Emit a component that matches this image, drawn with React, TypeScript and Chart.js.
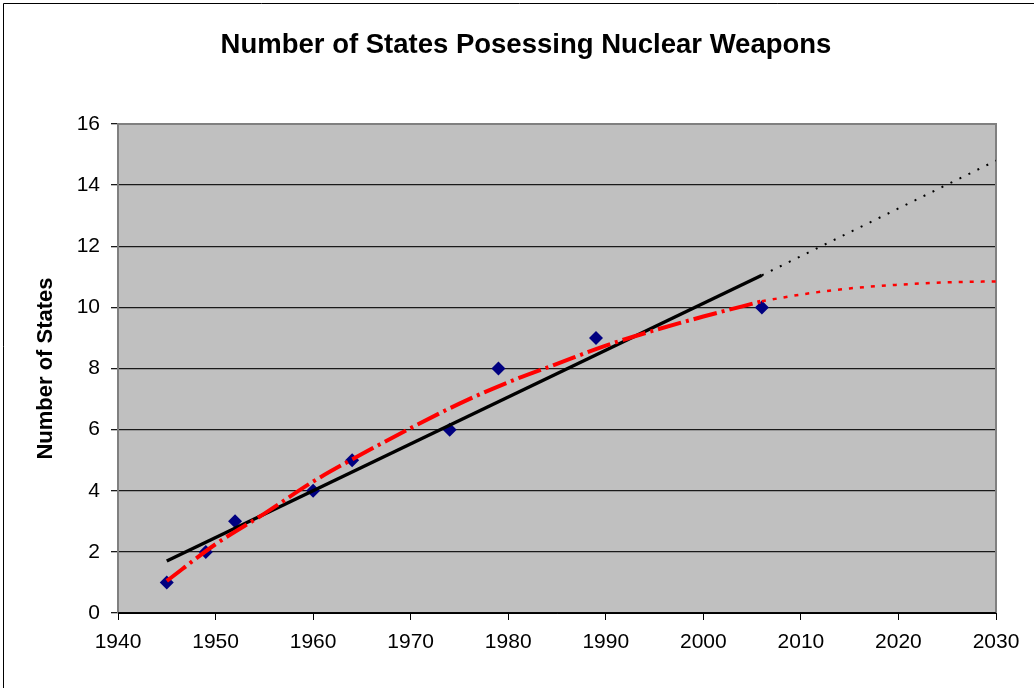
import React, { useEffect, useRef } from "react";
import { Chart, registerables } from "chart.js";

Chart.register(...registerables);

const titleText = "Number of States Posessing Nuclear Weapons";
const yAxisTitle = "Number of States";

const years = [1945, 1949, 1952, 1960, 1964, 1974, 1979, 1989, 2006];
const states = [1, 2, 3, 4, 5, 6, 8, 9, 10];

const linearYears = [1945, 2006];
const linearValues = [1.7, 11.05];
const linearForecastYears = [2006, 2030];
const linearForecastValues = [11.05, 14.8];

const polyYears = [1945, 1950, 1955, 1960, 1965, 1970, 1975, 1980, 1985, 1990, 1995, 2000, 2006];
const polyValues = [1.05, 2.25, 3.25, 4.3, 5.2, 6.05, 6.85, 7.55, 8.15, 8.75, 9.25, 9.7, 10.2];
const polyForecastYears = [2006, 2010, 2015, 2020, 2025, 2030];
const polyForecastValues = [10.2, 10.42, 10.62, 10.74, 10.82, 10.85];

const FONT = '"Liberation Sans", Arial, sans-serif';

const pts = (xs: number[], ys: number[]) => xs.map((x, i) => ({ x, y: ys[i] }));

const decorPlugin = {
  id: "decor",
  beforeDraw(chart: any) {
    const { ctx, chartArea: a } = chart;
    ctx.save();
    ctx.fillStyle = "#ffffff";
    ctx.fillRect(0, 0, chart.width, chart.height);
    ctx.fillStyle = "#C0C0C0";
    ctx.fillRect(a.left, a.top, a.right - a.left, a.bottom - a.top);
    ctx.strokeStyle = "#000000";
    ctx.lineWidth = 1;
    ctx.beginPath();
    ctx.moveTo(3.5, chart.height + 5);
    ctx.lineTo(3.5, 3.5);
    ctx.lineTo(chart.width + 5, 3.5);
    ctx.stroke();
    ctx.fillStyle = "#000000";
    ctx.font = `bold 27.5px ${FONT}`;
    ctx.textAlign = "center";
    ctx.textBaseline = "middle";
    ctx.fillText(titleText, 526, 45);
    ctx.restore();
  },
  beforeDatasetsDraw(chart: any) {
    const { ctx, chartArea: a } = chart;
    ctx.save();
    ctx.strokeStyle = "#808080";
    ctx.lineWidth = 2;
    ctx.beginPath();
    ctx.moveTo(a.left, a.bottom);
    ctx.lineTo(a.left, a.top);
    ctx.lineTo(a.right, a.top);
    ctx.lineTo(a.right, a.bottom);
    ctx.stroke();
    ctx.strokeStyle = "#000000";
    ctx.lineWidth = 1.5;
    ctx.beginPath();
    ctx.moveTo(a.left, a.bottom);
    ctx.lineTo(a.right, a.bottom);
    ctx.stroke();
    ctx.restore();
  },
};

export default function App() {
  const ref = useRef<HTMLCanvasElement>(null);

  useEffect(() => {
    if (!ref.current) return;
    const chart = new Chart(ref.current, {
      type: "line",
      data: {
        datasets: [
          {
            label: "Poly forecast",
            data: pts(polyForecastYears, polyForecastValues),
            borderColor: "#FF0000",
            borderWidth: 2.5,
            borderDash: [4, 7],
            pointRadius: 0,
            cubicInterpolationMode: "monotone",
            order: 1,
          },
          {
            label: "Poly trend",
            data: pts(polyYears, polyValues),
            borderColor: "#FF0000",
            borderWidth: 4,
            borderDash: [24, 5, 3, 5],
            pointRadius: 0,
            cubicInterpolationMode: "monotone",
            order: 2,
          },
          {
            label: "Linear forecast",
            data: pts(linearForecastYears, linearForecastValues),
            borderColor: "#000000",
            borderWidth: 2,
            borderDash: [2, 8],
            pointRadius: 0,
            order: 3,
          },
          {
            label: "Linear trend",
            data: pts(linearYears, linearValues),
            borderColor: "#000000",
            borderWidth: 3.5,
            pointRadius: 0,
            order: 4,
          },
          {
            label: "States",
            data: pts(years, states),
            showLine: false,
            pointStyle: "rectRot",
            pointRadius: 7,
            pointBackgroundColor: "#000080",
            pointBorderColor: "#000080",
            pointBorderWidth: 0,
            order: 5,
          },
        ],
      },
      options: {
        responsive: false,
        animation: false,
        layout: { padding: { top: 124, left: 10, right: 38, bottom: 0 } },
        plugins: {
          legend: { display: false },
          title: { display: false },
          tooltip: { enabled: false },
        },
        scales: {
          x: {
            type: "linear",
            min: 1940,
            max: 2030,
            afterFit: (s: any) => {
              s.height = 75;
            },
            ticks: {
              stepSize: 10,
              padding: 10,
              color: "#000",
              font: { family: FONT, size: 21 },
              maxRotation: 0,
              callback: (v: any) => String(v),
            },
            grid: {
              drawOnChartArea: false,
              tickLength: 7,
              color: "#000",
              lineWidth: 1,
            },
            border: { color: "#000", width: 1 },
          },
          y: {
            min: 0,
            max: 16,
            afterFit: (s: any) => {
              s.width = 108;
            },
            ticks: {
              stepSize: 2,
              padding: 11,
              color: "#000",
              font: { family: FONT, size: 21 },
            },
            grid: {
              color: "#1a1a1a",
              lineWidth: 1.3,
              tickLength: 7,
            },
            border: { color: "#000", width: 1 },
            title: {
              display: true,
              text: yAxisTitle,
              color: "#000",
              font: { family: FONT, size: 22, weight: "bold" },
              padding: { top: 23, bottom: 0 },
            },
          },
        },
      },
      plugins: [decorPlugin],
    });
    return () => chart.destroy();
  }, []);

  return (
    <div style={{ position: "absolute", left: 0, top: 0, width: 1034, height: 688 }}>
      <canvas ref={ref} width={1034} height={688} />
    </div>
  );
}
